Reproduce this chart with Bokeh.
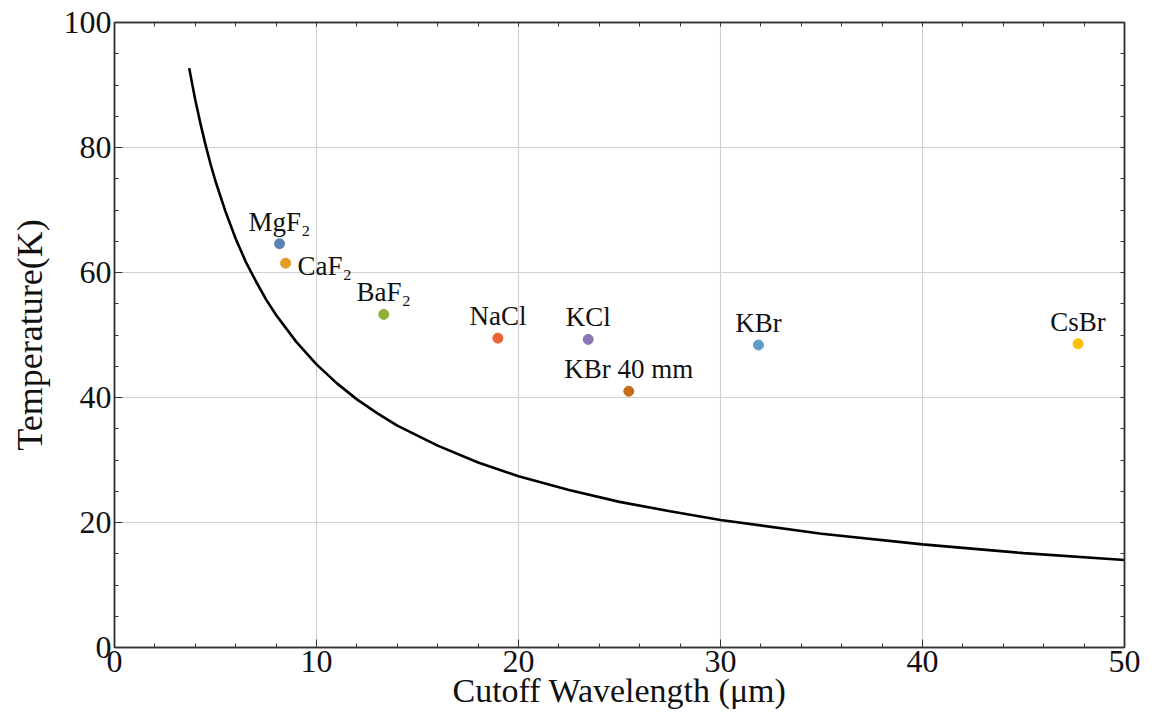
from bokeh.plotting import figure
from bokeh.models import ColumnDataSource, LinearAxis, SingleIntervalTicker, FixedTicker
from bokeh.core.properties import value
from bokeh.embed import file_html
from bokeh.resources import INLINE

# ---- data ----
curve_x = [3.7, 3.85, 4.0, 4.25, 4.5, 4.75, 5.0, 5.5, 6.0, 6.5, 7.0, 7.5, 8.0, 9.0,
           10, 11, 12, 13, 14, 16, 18, 20, 22.5, 25, 27.5, 30, 35, 40, 45, 50]
curve_y = [92.7, 90.1, 87.6, 83.9, 80.5, 77.4, 74.6, 69.7, 65.4, 61.7, 58.6, 55.7,
           53.2, 48.9, 45.3, 42.3, 39.7, 37.5, 35.5, 32.3, 29.6, 27.4, 25.2, 23.3,
           21.8, 20.4, 18.2, 16.5, 15.1, 14.0]

materials = ["MgF₂", "CaF₂", "BaF₂", "NaCl", "KCl", "KBr 40 mm", "KBr", "CsBr"]
cutoff = [8.17, 8.47, 13.33, 18.98, 23.45, 25.46, 31.88, 47.7]
temperature = [64.6, 61.5, 53.3, 49.5, 49.3, 41.0, 48.4, 48.6]
colors = ["#5E81B5", "#E19C24", "#8FB032", "#EB6235", "#8778B3", "#C56E1A",
          "#5D9EC7", "#FFBF00"]

x_minor_positions = list(range(0, 51, 2))
y_minor_positions = list(range(0, 101, 5))

FONT = "Liberation Serif"
AX = "#333333"

p = figure(frame_width=1010, frame_height=625, x_range=(0, 50), y_range=(0, 100),
           output_backend="svg", toolbar_location=None,
           min_border_left=114, min_border_right=20, min_border_top=22,
           min_border_bottom=63, background_fill_color="white",
           border_fill_color="white")

xt = SingleIntervalTicker(interval=10, num_minor_ticks=5)
yt = SingleIntervalTicker(interval=20, num_minor_ticks=4)

xaxis = p.below[0]
yaxis = p.left[0]
xaxis.ticker = xt
yaxis.ticker = yt
p.xgrid.ticker = xt
p.ygrid.ticker = yt
for g in (p.xgrid, p.ygrid):
    g.grid_line_color = "#d2d2d2"
    g.grid_line_width = 1.2

top = LinearAxis(ticker=FixedTicker(ticks=[], minor_ticks=x_minor_positions))
right = LinearAxis(ticker=FixedTicker(ticks=[], minor_ticks=y_minor_positions))
p.add_layout(top, "above")
p.add_layout(right, "right")

for ax in (xaxis, yaxis, top, right):
    ax.axis_line_color = AX
    ax.axis_line_width = 1.5
    ax.major_tick_line_color = AX
    ax.minor_tick_line_color = AX
    ax.major_tick_in = 8
    ax.major_tick_out = 0
    ax.minor_tick_in = 4
    ax.minor_tick_out = 0
    ax.major_label_text_font = FONT
    ax.major_label_text_color = "#111111"
    ax.major_label_text_font_size = "32px"
    ax.axis_label_text_font = FONT
    ax.axis_label_text_font_style = "normal"
    ax.axis_label_text_font_size = "34px"
    ax.axis_label_text_color = "#111111"

xaxis.axis_label = "Cutoff Wavelength (μm)"
yaxis.axis_label = "Temperature(K)"
yaxis.axis_label_text_font_size = "36px"
xaxis.major_label_standoff = 3
xaxis.axis_label_standoff = -3
yaxis.major_label_standoff = 3
yaxis.axis_label_standoff = 11
p.outline_line_color = AX
p.outline_line_width = 1.5

p.line(curve_x, curve_y, line_color="black", line_width=2.6)

src = ColumnDataSource(dict(x=cutoff, y=temperature, c=colors, name=materials))
p.scatter("x", "y", source=src, size=10, fill_color="c", line_color="c")

centered = [i for i in range(len(materials)) if materials[i] != "CaF₂"]
side = [i for i in range(len(materials)) if materials[i] == "CaF₂"]

src_c = ColumnDataSource(dict(x=[cutoff[i] for i in centered],
                              y=[temperature[i] for i in centered],
                              t=[materials[i] for i in centered]))
p.text("x", "y", text="t", source=src_c, text_align="center",
       text_baseline="alphabetic", y_offset=-22, text_font=value(FONT),
       text_font_size="27px", text_color="#111111")

src_s = ColumnDataSource(dict(x=[cutoff[i] for i in side],
                              y=[temperature[i] for i in side],
                              t=[materials[i] for i in side]))
p.text("x", "y", text="t", source=src_s, text_align="left",
       text_baseline="alphabetic", x_offset=12, y_offset=3,
       text_font=value(FONT), text_font_size="27px", text_color="#111111")

open("out.html", "w").write(file_html(p, INLINE))
